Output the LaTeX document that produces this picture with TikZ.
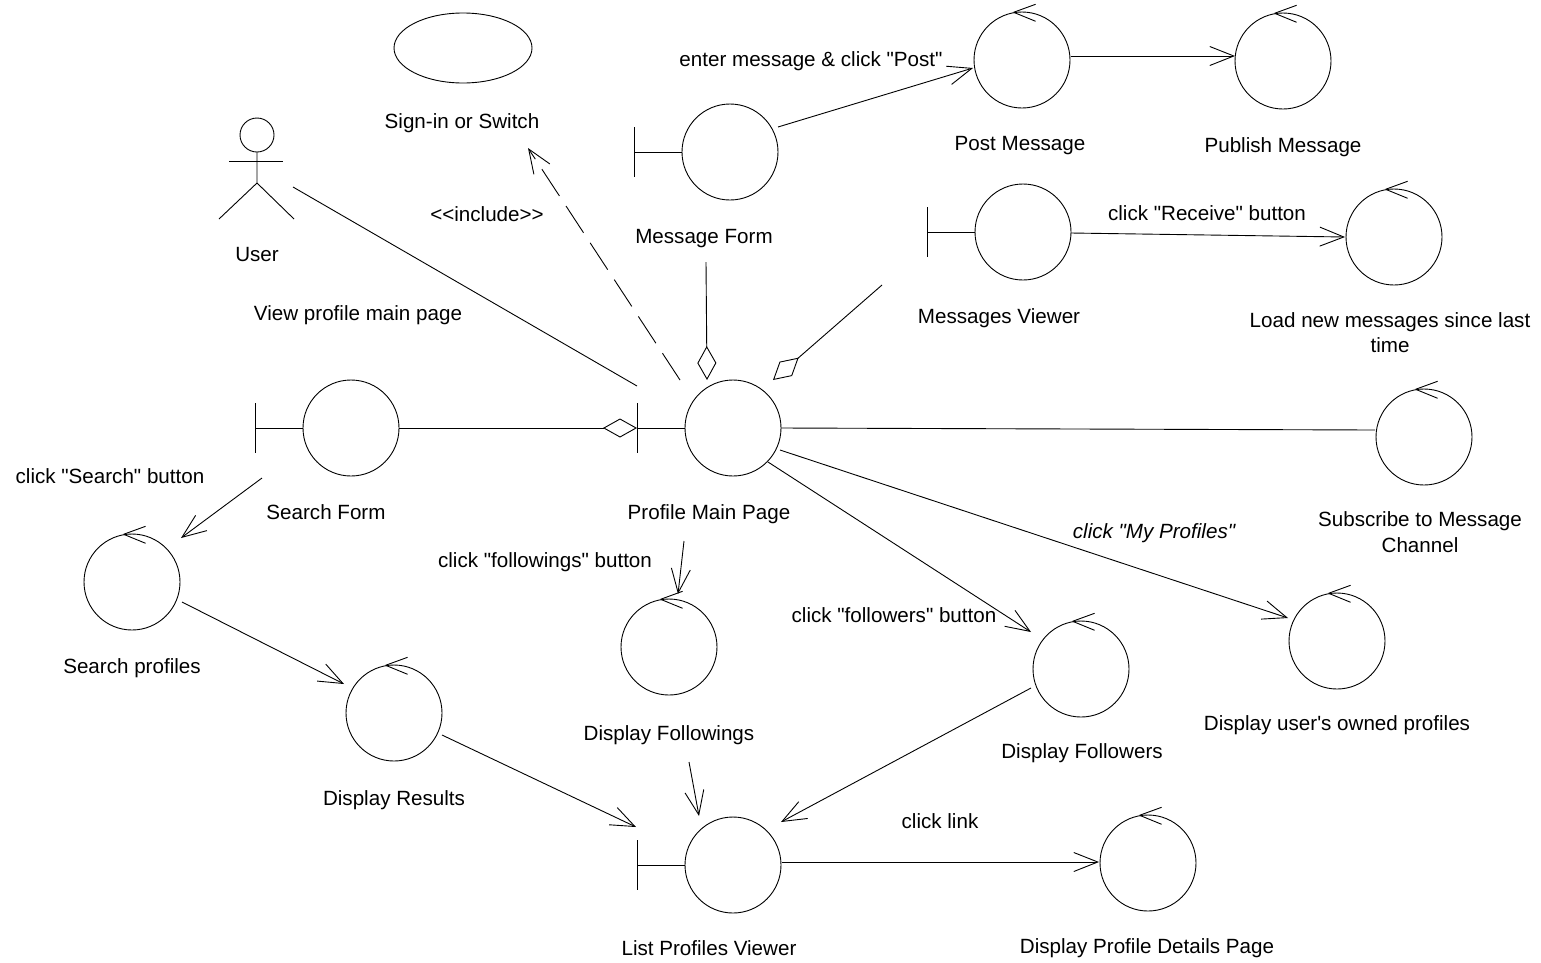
\documentclass[tikz,border=0pt]{standalone}
\usepackage{fontspec}
\setmainfont{Liberation Sans}[Ligatures=TeXOff]
\usetikzlibrary{arrows.meta,calc,shapes.geometric}

% control object: arrow mark on top of the circle
\newcommand\ctrlmark[1]{\draw (#1.100) -- ++(22,-8) (#1.100) -- ++(22,9);}
% boundary object: stub and vertical bar left of the circle
\newcommand\bndry[1]{\draw (#1.west) -- ++(-47,0) ++(0,-25) -- ++(0,50);}

\begin{document}
\begin{tikzpicture}[x=1pt,y=-1pt,line width=0.9pt,
  obj/.style={circle,draw,minimum size=96pt,inner sep=0pt},
  lbl/.style={font=\fontsize{20.6}{24}\selectfont,anchor=base,inner sep=0pt},
  nav/.style={-{Straight Barb[length=24pt,width=19pt]}},
  agg/.style={-{Diamond[open,length=34pt,width=19pt]}}]

\fill[white] (0,0) rectangle (1541,962);
\useasboundingbox (0,0) rectangle (1541,962);

% ---- objects ----
\node[ellipse,draw,minimum width=138pt,minimum height=70pt,inner sep=0pt] (signin) at (463,48) {};
\node[obj] (msgform)    at (730,152) {};
\node[obj] (post)       at (1022,60) {};
\node[obj] (publish)    at (1283,61) {};
\node[obj] (viewer)     at (1023,232) {};
\node[obj] (load)       at (1394,237) {};
\node[obj] (pmp)        at (733,428) {};
\node[obj] (subscribe)  at (1424,437) {};
\node[obj] (searchform) at (351,428) {};
\node[obj] (searchprof) at (132,582) {};
\node[obj] (results)    at (394,713) {};
\node[obj] (followings) at (669,647) {};
\node[obj] (followers)  at (1081,669) {};
\node[obj] (owned)      at (1337,641) {};
\node[obj] (lpv)        at (733,865) {};
\node[obj] (details)    at (1148,863) {};

\foreach \n in {post,publish,load,subscribe,searchprof,results,followings,followers,owned,details}
  {\ctrlmark{\n}}
\foreach \n in {msgform,viewer,pmp,searchform,lpv}
  {\bndry{\n}}

% ---- actor ----
\coordinate (user) at (257,160);
\draw ([shift={(0,-25)}]user) circle[radius=17];
\draw ([shift={(-28,1)}]user) -- ++(54,0);
\draw ([shift={(0,-8)}]user) -- ++(0,31) -- ++(-38,36) ++(38,-36) -- ++(37,36);

% ---- labels ----
\node[lbl] (t-signin)  at (462,128) {Sign-in or Switch};
\node[lbl] (t-user)    at (257,261) {User};
\node[lbl] (t-view)    at (358,320) {View profile main page};
\node[lbl] (t-incl)    at (487,221) {<<include>>};
\node[lbl] (t-msgform) at (704,243) {Message Form};
\node[lbl] (t-enter)   at (811,66) {enter message \& click "Post"};
\node[lbl] (t-post)    at (1020,150) {Post Message};
\node[lbl] (t-publish) at (1283,152) {Publish Message};
\node[lbl] (t-viewer)  at (999,323) {Messages Viewer};
\node[lbl] (t-recv)    at (1207,220) {click "Receive" button};
\node[lbl] (t-load1)   at (1390,327) {Load new messages since last};
\node[lbl] (t-load2)   at (1390,352) {time};
\node[lbl] (t-subs1)   at (1420,526) {Subscribe to Message};
\node[lbl] (t-subs2)   at (1420,552) {Channel};
\node[lbl,font=\fontsize{20.6}{24}\selectfont\itshape] (t-myprof) at (1154,538) {click "My Profiles"};
\node[lbl] (t-pmp)     at (709,519) {Profile Main Page};
\node[lbl] (t-sform)   at (326,519) {Search Form};
\node[lbl] (t-search)  at (110,483) {click "Search" button};
\node[lbl] (t-sprof)   at (132,673) {Search profiles};
\node[lbl] (t-fing)    at (545,567) {click "followings" button};
\node[lbl] (t-fers)    at (894,622) {click "followers" button};
\node[lbl] (t-dfing)   at (669,740) {Display Followings};
\node[lbl] (t-dres)    at (394,805) {Display Results};
\node[lbl] (t-dfers)   at (1082,758) {Display Followers};
\node[lbl] (t-owned)   at (1337,730) {Display user\textquotesingle s owned profiles};
\node[lbl] (t-link)    at (940,828) {click link};
\node[lbl] (t-lpv)     at (709,955) {List Profiles Viewer};
\node[lbl] (t-details) at (1147,953) {Display Profile Details Page};

% ---- connectors ----
\draw ([shift={(36,27)}]user) -- ($(pmp)+(-96,-42)$);
\draw[nav,dash pattern=on 32pt off 12pt] ($(pmp)+(-53,-48)$) -- ($(signin)+(65,100)$);
\draw[agg] ($(msgform)+(-24,110)$) -- ($(pmp)+(-26,-48)$);
\draw[agg] ($(viewer)+(-141,53)$) -- ($(pmp)+(40,-48)$);
\draw[agg] (searchform.east) -- ($(pmp)+(-96,0)$);
\draw[nav] ($(msgform)+(48,-25)$) -- ($(post)+(-49,8)$);
\draw[nav] ($(post)+(49,-4)$) -- ($(publish)+(-48,-5)$);
\draw[nav] ($(viewer)+(48,1)$) -- ($(load)+(-49,0)$);
\draw ($(pmp)+(48,0)$) -- ($(subscribe)+(-49,-7)$);
\draw[nav] ($(searchform)+(-89,50)$) -- ($(searchprof)+(49,-44)$);
\draw[nav] ($(searchprof)+(50,20)$) -- ($(results)+(-50,-29)$);
\draw[nav] ($(results)+(48,22)$) -- ($(lpv)+(-97,-38)$);
\draw[nav] ($(pmp)+(-49,113)$) -- ($(followings)+(9,-53)$);
\draw[nav] ($(followings)+(20,115)$) -- ($(lpv)+(-34,-49)$);
\draw[nav] ($(pmp)+(35,34)$) -- ($(followers)+(-50,-37)$);
\draw[nav] ($(pmp)+(47,22)$) -- ($(owned)+(-49,-23)$);
\draw[nav] ($(followers)+(-50,19)$) -- ($(lpv)+(48,-43)$);
\draw[nav] ($(lpv)+(49,-3)$) -- ($(details)+(-49,-1)$);
\end{tikzpicture}
\end{document}
